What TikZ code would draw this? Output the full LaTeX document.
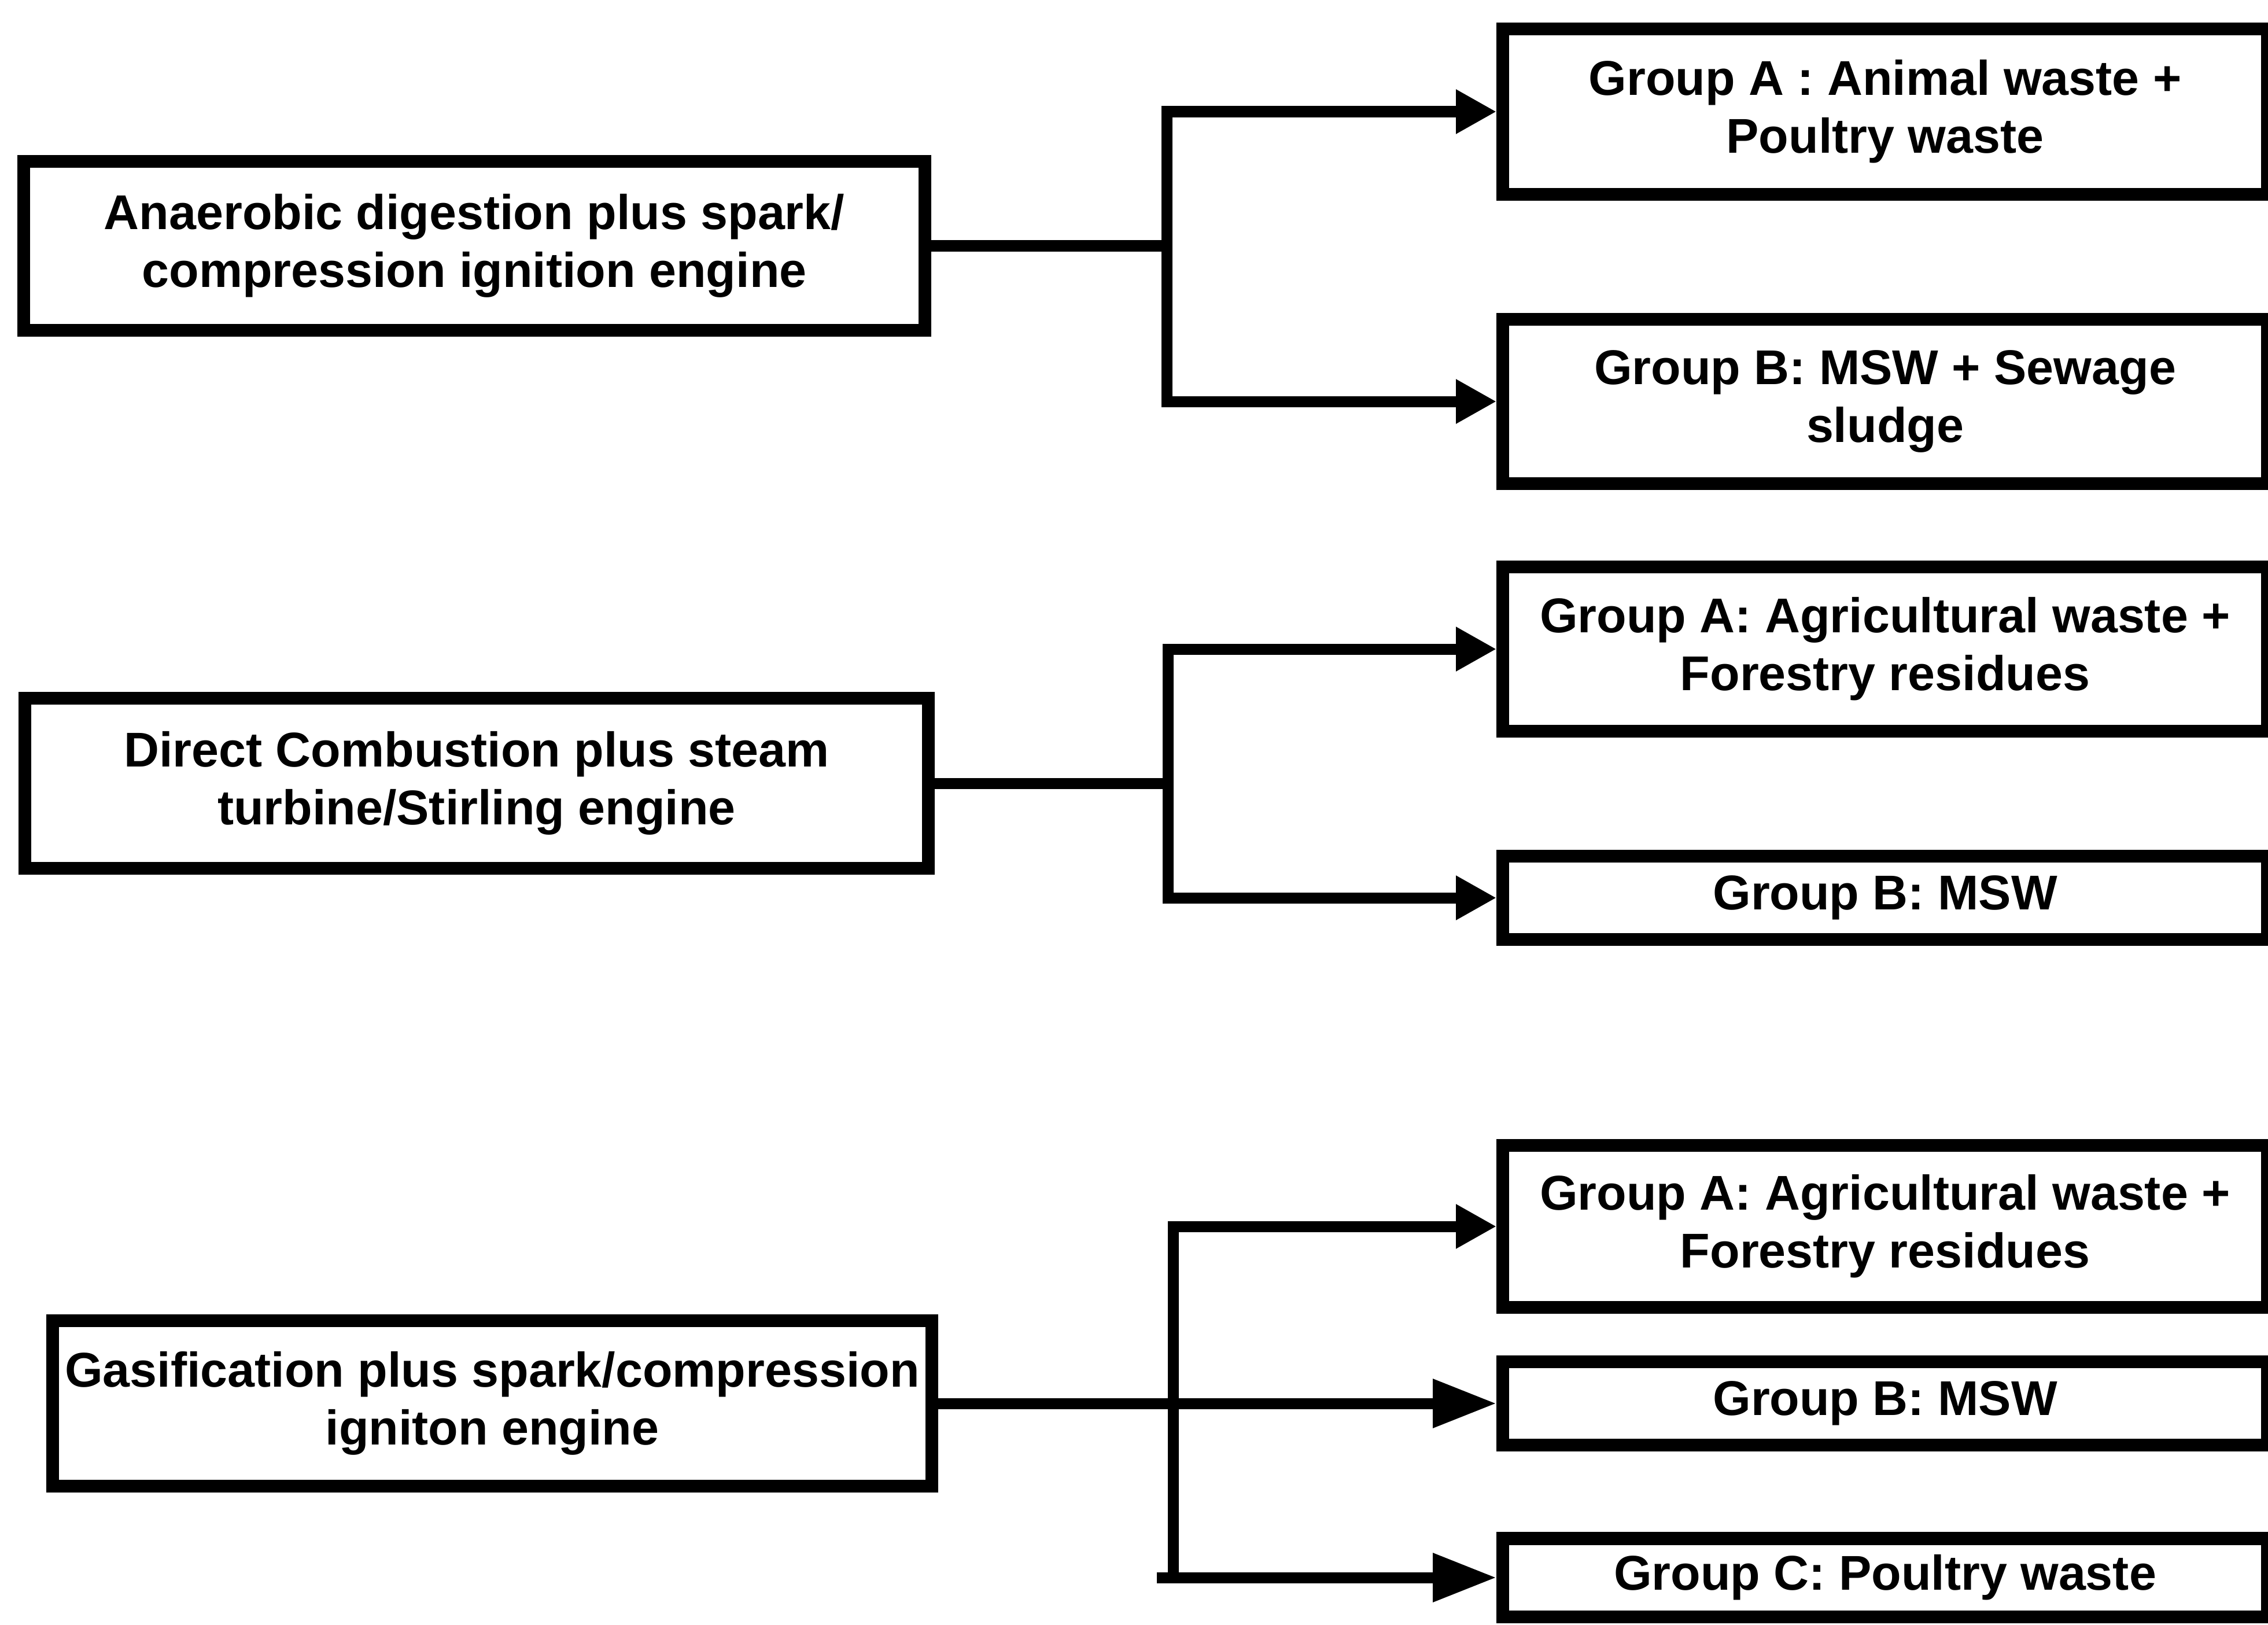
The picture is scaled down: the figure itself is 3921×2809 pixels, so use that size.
\documentclass[tikz,border=0pt]{standalone}
\usepackage{fontspec}
\setmainfont{Liberation Sans}
\usetikzlibrary{arrows.meta}
\begin{document}
\begin{tikzpicture}[x=0.01cm,y=-0.01cm,
  box/.style={draw, line width=0.22cm, rectangle, inner sep=0pt, align=center,
    font=\fontsize{24pt}{28.5pt}\selectfont\bfseries},
  leftbox/.style={box},
  rightbox/.style={box, minimum width=13.21cm},
  conn/.style={line width=0.19cm, line join=miter},
  arr/.style={conn, -{Triangle[length=0.7cm,width=0.72cm]}},
  arrlong/.style={conn, -{Triangle[length=1.1cm,width=0.8cm]}}]
\useasboundingbox (0,0) rectangle (3921,2809);
\fill[white] (0,0) rectangle (3921,2809);

% conversion routes
\node[leftbox, minimum width=15.58cm, minimum height=2.92cm] (b1) at (820,425)
  {Anaerobic digestion plus spark/\\compression ignition engine};
\node[leftbox, minimum width=15.61cm, minimum height=2.93cm] (b2) at (824,1354)
  {Direct Combustion plus steam\\turbine/Stirling engine};
\node[leftbox, minimum width=15.19cm, minimum height=2.86cm] (b3) at (851,2426)
  {Gasification plus spark/compression\\igniton engine};

% feedstock groups
\node[rightbox, minimum height=2.86cm] (r1) at (3259,193)
  {Group A : Animal waste +\\Poultry waste};
\node[rightbox, minimum height=2.84cm] (r2) at (3259,694)
  {Group B: MSW + Sewage\\sludge};
\node[rightbox, minimum height=2.84cm] (r3) at (3259,1122)
  {Group A: Agricultural waste +\\Forestry residues};
\node[rightbox, minimum height=1.44cm] (r4) at (3259,1552)
  {Group B: MSW};
\node[rightbox, minimum height=2.79cm] (r5) at (3259,2120)
  {Group A: Agricultural waste +\\Forestry residues};
\node[rightbox, minimum height=1.44cm] (r6) at (3259,2426)
  {Group B: MSW};
\node[rightbox, minimum height=1.35cm] (r7) at (3259,2727)
  {Group C: Poultry waste};

% branching points
\coordinate (j1) at (2017,0);
\coordinate (j2) at (2019,0);
\coordinate (j3) at (2028,0);
\coordinate (t3) at (2000,2727);

% route 1
\draw[conn] (b1.east) -- (b1.east -| j1);
\draw[arr] (b1.east -| j1) |- (r1.west);
\draw[arr] (b1.east -| j1) |- (r2.west);

% route 2
\draw[conn] (b2.east) -- (b2.east -| j2);
\draw[arr] (b2.east -| j2) |- (r3.west);
\draw[arr] (b2.east -| j2) |- (r4.west);

% route 3
\draw[arrlong] (b3.east) -- (r6.west);
\draw[arr] (j3 |- r7.west) |- (r5.west);
\draw[arrlong] (t3) -- (r7.west);
\end{tikzpicture}
\end{document}
